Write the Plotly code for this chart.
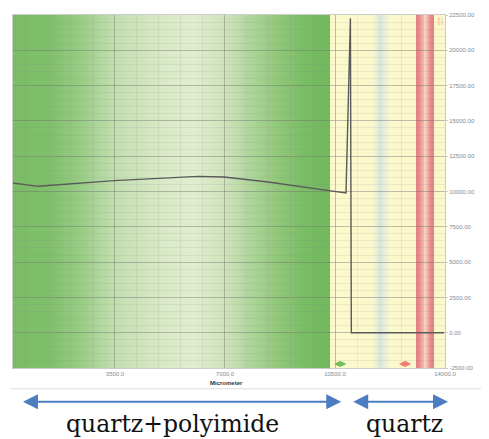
import base64
import plotly.graph_objects as go

# ---- data ----
x_um = [255, 1050, 3468, 6141, 6968, 8369, 10310, 10850, 10990, 11020, 13970]
y_nm = [10600, 10367, 10768, 11071, 11022, 10670, 10064, 9895, 22270, 0, 0]

x_ticks = [3500, 7000, 10500, 14000]
x_tick_labels = ["3500.0", "7000.0", "10500.0", "14000.0"]
y_ticks = [-2500, 0, 2500, 5000, 7500, 10000, 12500, 15000, 17500, 20000, 22500]
y_tick_labels = ["-2500.00", "0.00", "2500.00", "5000.00", "7500.00", "10000.00",
                 "12500.00", "15000.00", "17500.00", "20000.00", "22500.00"]

region_labels = ["quartz+polyimide", "quartz"]

# ---- layout geometry (page pixels; page body has an 8px margin) ----
OFF = 8
W, H = 489 - OFF, 439 - OFF
L, R, T, B = 12 - OFF, 44, 12 - OFF, 71
PW, PH = W - L - R, H - T - B
XMIN, XMAX = 255, 14000
YMIN, YMAX = -2500, 22500


def px(xp):
    return (xp - OFF - L) / PW


def py(yp):
    return (H - B - (yp - OFF)) / PH


# background colour bands along x (style)
bg_stops = [(255, '#7abd66'), (1500, '#80c06c'), (2500, '#9ccd88'), (3500, '#c2dfb0'),
            (5000, '#d9e9c6'), (6000, '#e1edcf'), (7000, '#cfe3bb'), (8000, '#a8d293'),
            (8800, '#8cc676'), (9600, '#78bc63'), (10330, '#72b85d'),
            (10330, '#fcf9cd'), (11700, '#fbf8cb'), (11780, '#eef2d6'), (11975, '#dde8dc'),
            (12170, '#eef2d6'), (12250, '#fbf8cb'), (13080, '#fbf8cb'), (13080, '#e67f7f'),
            (13200, '#e98c89'), (13365, '#f7d6c8'), (13530, '#e98c89'), (13650, '#e67f7f'),
            (13650, '#fbf8cb'), (14000, '#fbf8cb')]
span = XMAX - XMIN
stops_svg = ''.join('<stop offset="%.5f" stop-color="%s"/>' % ((x - XMIN) / span, c)
                    for x, c in bg_stops)
svg = ('<svg xmlns="http://www.w3.org/2000/svg" width="1000" height="10" '
       'preserveAspectRatio="none" viewBox="0 0 1000 10">'
       '<defs><linearGradient id="g" x1="0" y1="0" x2="1" y2="0">%s</linearGradient></defs>'
       '<rect x="0" y="0" width="1000" height="10" fill="url(#g)"/></svg>') % stops_svg
src = 'data:image/svg+xml;base64,' + base64.b64encode(svg.encode()).decode()

images = [dict(source=src, xref='x', yref='paper', x=XMIN, y=1, sizex=span, sizey=1,
               sizing='stretch', xanchor='left', yanchor='top', layer='below')]

shapes = []
# separator line below chart
shapes.append(dict(type='line', xref='paper', yref='paper', x0=px(10), x1=px(489),
                   y0=py(389), y1=py(389), line=dict(color='#dcdcdc', width=1)))

# blue double arrows
blue = '#4a7ec0'
for tipL, tipR in [(22, 341), (353, 448)]:
    shapes.append(dict(type='line', xref='paper', yref='paper', x0=px(tipL + 12), x1=px(tipR - 12),
                       y0=py(402), y1=py(402), line=dict(color=blue, width=2)))
    for tip, base in [(tipL, tipL + 15), (tipR, tipR - 15)]:
        path = 'M %f %f L %f %f L %f %f Z' % (px(tip), py(402), px(base), py(394.5),
                                             px(base), py(409.5))
        shapes.append(dict(type='path', xref='paper', yref='paper', path=path,
                           fillcolor=blue, line_width=0))

fig = go.Figure()
fig.add_trace(go.Scatter(x=x_um, y=y_nm, mode='lines',
                         line=dict(color='#5a5a5a', width=1.4), showlegend=False,
                         hoverinfo='skip'))

C = dict(showarrow=False, xanchor='center', yanchor='middle')
annotations = [
    dict(text='<b>Micrometer</b>', xref='paper', yref='paper', x=px(226), y=py(383.5),
         font=dict(size=6, color='#333333', family='Liberation Sans'), **C),
    dict(text='<b>Nanometer</b>', xref='paper', yref='paper', x=px(484), y=py(185),
         textangle=-90, font=dict(size=6, color='#333333', family='Liberation Sans'), **C),
    dict(text='◀▶', xref='x', yref='y', x=10660, y=-2130,
         font=dict(size=8, color='#6cbf5a'), **C),
    dict(text='◀▶', xref='x', yref='y', x=12730, y=-2130,
         font=dict(size=8, color='#ec7f70'), **C),
    dict(text='[|', xref='x', yref='y', x=13860, y=22100,
         font=dict(size=7, color='#ef9a8a'), **C),
    dict(text=region_labels[0], xref='paper', yref='paper', x=px(172), y=py(424),
         font=dict(size=23.5, color='#111111', family='DejaVu Serif'), **C),
    dict(text=region_labels[1], xref='paper', yref='paper', x=px(404), y=py(424),
         font=dict(size=23.5, color='#111111', family='DejaVu Serif'), **C),
]

fig.update_layout(
    width=W, height=H,
    margin=dict(l=L, r=R, t=T, b=B, pad=0),
    paper_bgcolor='white', plot_bgcolor='white',
    shapes=shapes, annotations=annotations, images=images,
    xaxis=dict(range=[XMIN, XMAX], tickvals=x_ticks, ticktext=x_tick_labels,
               showgrid=True, gridcolor='rgba(110,110,110,0.35)', gridwidth=1,
               minor=dict(dtick=700, tick0=0, showgrid=True, gridcolor='rgba(130,130,130,0.12)'),
               ticks='', tickfont=dict(size=6, color='#888888', family='Liberation Sans'),
               showline=True, linecolor='#cccccc', mirror=True, zeroline=False),
    yaxis=dict(range=[YMIN, YMAX], tickvals=y_ticks, ticktext=y_tick_labels, side='right',
               showgrid=True, gridcolor='rgba(110,110,110,0.35)', gridwidth=1,
               minor=dict(dtick=500, tick0=0, showgrid=True, gridcolor='rgba(130,130,130,0.12)'),
               ticks='outside', ticklen=2, tickcolor='#cccccc',
               tickfont=dict(size=6, color='#888888', family='Liberation Sans'),
               showline=True, linecolor='#cccccc', mirror=True, zeroline=False),
)

fig.write_html('out.html')
